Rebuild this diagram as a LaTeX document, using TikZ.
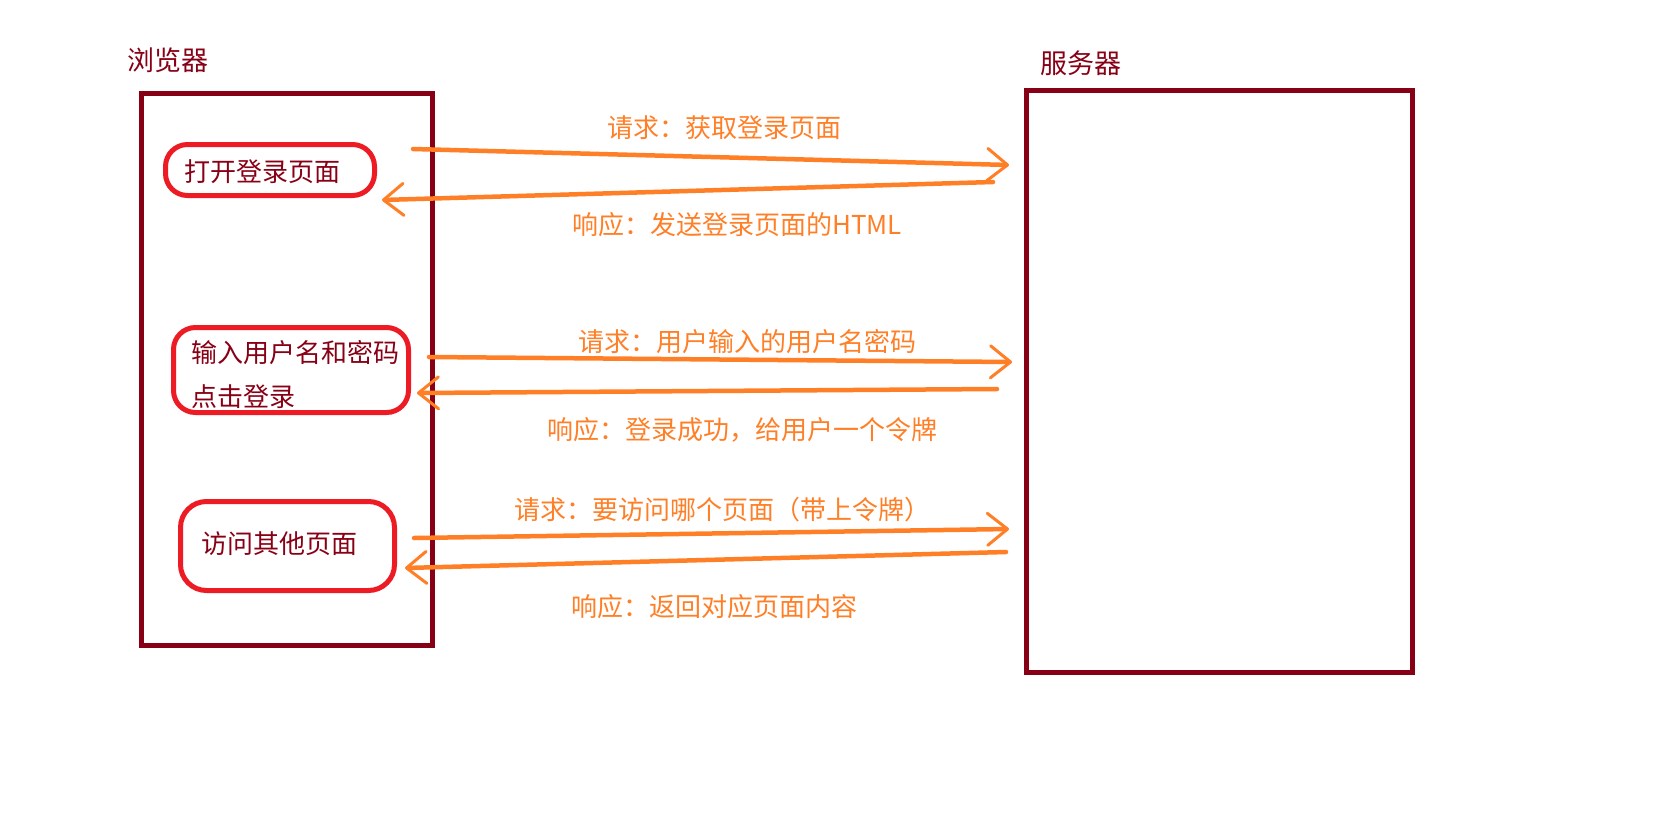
\documentclass[tikz,border=0pt]{standalone}
\usepackage{fontspec}
\setmainfont{Noto Sans CJK SC}
\usetikzlibrary{arrows.meta}
\definecolor{maroon}{RGB}{136,0,21}
\definecolor{boxred}{RGB}{237,28,36}
\definecolor{flowc}{RGB}{255,127,39}
\tikzset{
 panel/.style={draw=maroon, line width=5pt, inner sep=0pt},
 rbox/.style={draw=boxred, line width=5pt, rounded corners=22pt, inner sep=0pt},
 title/.style={text=maroon, font=\fontsize{27}{30}\selectfont, inner sep=0pt},
 btext/.style={text=maroon, font=\fontsize{26}{44}\selectfont, inner sep=0pt, align=left},
 msg/.style={text=flowc, font=\fontsize{26}{30}\selectfont, inner sep=0pt},
 flowline/.style={draw=flowc, line width=4.5pt, line cap=round, -{Straight Barb[length=20pt,width=32pt,line width=3pt,round]}},
}
\begin{document}
\begin{tikzpicture}[x=1pt,y=-1pt]
\useasboundingbox[fill=white] (0,0) rectangle (1673,836);
% panels
\node[panel, minimum width=291pt, minimum height=552.5pt] (browser) at (286.5,369.25) {};
\node[panel, minimum width=386pt, minimum height=582pt] (server) at (1219.5,381.5) {};
\node[title] (tb) at (168,60) {浏览器};
\node[title] (ts) at (1081,63) {服务器};
% browser steps
\node[rbox, minimum width=209pt, minimum height=51pt] (b1) at (270,170) {};
\node[btext, anchor=west] (b1t) at (184,172) {打开登录页面};
\node[rbox, minimum width=235pt, minimum height=85pt] (b2) at (291,370) {};
\node[btext, anchor=west] (b2t) at (191,375) {输入用户名和密码\\点击登录};
\node[rbox, minimum width=214pt, minimum height=89pt, rounded corners=26pt] (b3) at (287.5,546) {};
\node[btext, anchor=west] (b3t) at (201,544) {访问其他页面};
% arrow end points
\coordinate (a1s) at (413,149); \coordinate (a1e) at (1009,165);
\coordinate (a2s) at (993,182); \coordinate (a2e) at (382,200);
\coordinate (a3s) at (429,357); \coordinate (a3e) at (1012,362);
\coordinate (a4s) at (997,389); \coordinate (a4e) at (417,393);
\coordinate (a5s) at (414,538); \coordinate (a5e) at (1009,529);
\coordinate (a6s) at (1006,552); \coordinate (a6e) at (405,568);
\draw[flowline] (a1s) -- (a1e);
\draw[flowline] (a2s) -- (a2e);
\draw[flowline] (a3s) -- (a3e);
\draw[flowline] (a4s) -- (a4e);
\draw[flowline] (a5s) -- (a5e);
\draw[flowline] (a6s) -- (a6e);
% messages
\node[msg] (m1) at (724.5,128) {请求：获取登录页面};
\node[msg] (m2) at (737,225) {响应：发送登录页面的HTML};
\node[msg] (m3) at (747.5,342) {请求：用户输入的用户名密码};
\node[msg] (m4) at (742,430) {响应：登录成功，给用户一个令牌};
\node[msg] (m5) at (722.5,510) {请求：要访问哪个页面（带上令牌）};
\node[msg] (m6) at (714,607) {响应：返回对应页面内容};
\end{tikzpicture}
\end{document}
